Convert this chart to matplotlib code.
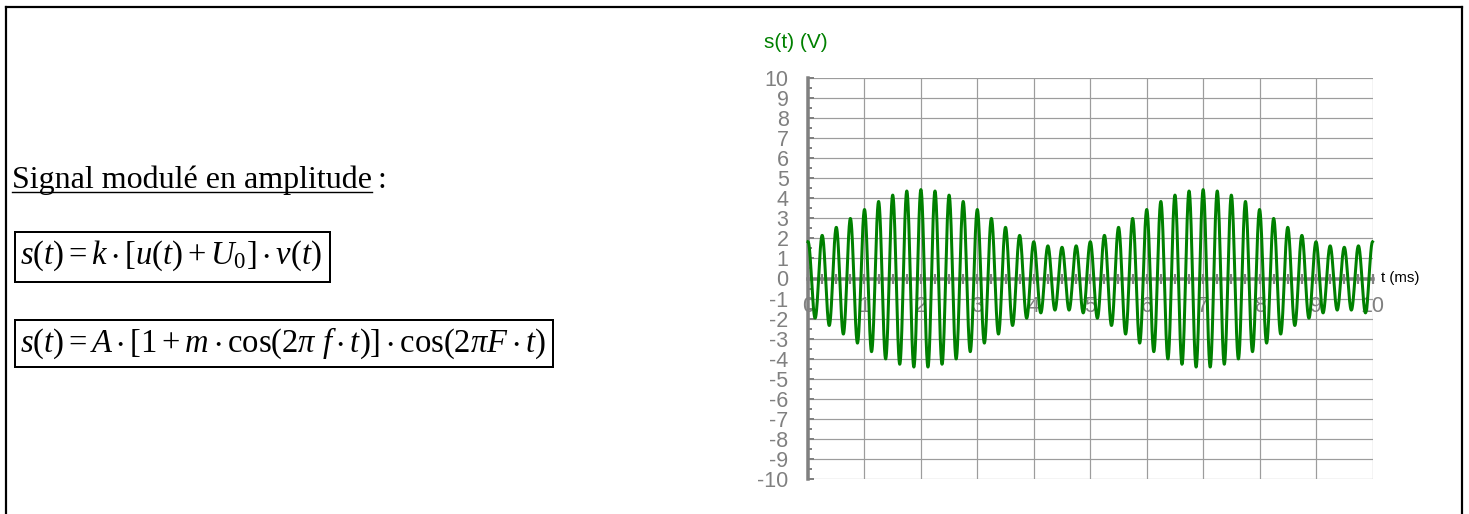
import numpy as np
import matplotlib
matplotlib.use('Agg')
import matplotlib.pyplot as plt
from matplotlib.lines import Line2D
from matplotlib.patches import Rectangle
from matplotlib.ticker import MultipleLocator

# ---- signal parameters ----
amplitude_A = 3.0          # V  (envelope between ~1.55 V and ~4.45 V)
modulation_index = 0.48
mod_freq_hz = 200.0        # envelope maxima at 2 ms and 7 ms
mod_peak_time_ms = 2.0
carrier_freq_hz = 4000.0   # 4 carrier periods per ms
t_min_ms, t_max_ms = 0.0, 10.0
x_tick_values = list(range(0, 11))
y_tick_values = list(range(-10, 11))

title_text = "Signal modulé en amplitude"
formula1 = r'$s(t) = k\cdot[u(t)+U_{\mathrm{0}}]\cdot v(t)$'
formula2 = r'$s(t) = A\cdot[1+m\cdot\mathrm{cos}(2\pi\ f\cdot t)]\cdot\mathrm{cos}(2\pi F\cdot t)$'

# ---- figure ----
W, H = 1469, 514
plt.rcParams['font.family'] = ['Liberation Sans', 'DejaVu Sans']
plt.rcParams['mathtext.fontset'] = 'custom'
plt.rcParams['mathtext.rm'] = 'Liberation Serif'
plt.rcParams['mathtext.it'] = 'Liberation Serif:italic'
plt.rcParams['mathtext.bf'] = 'Liberation Serif:bold'
plt.rcParams['mathtext.fallback'] = 'stix'

fig = plt.figure(figsize=(W / 100, H / 100), dpi=100)
fig.patch.set_facecolor('white')


def fx(x):
    return x / W


def fy(y):
    return 1 - y / H


PT = 0.72  # points per pixel

# page frame (left, top, right)
for xs, ys in [([6, 6], [7, H]), ([6, 1462], [7, 7]), ([1462, 1462], [7, H])]:
    fig.add_artist(Line2D([fx(v) for v in xs], [fy(v) for v in ys],
                          color='black', lw=2.2 * PT, transform=fig.transFigure))

# ---- left text ----
t1 = fig.text(fx(12), fy(188), title_text, family='Liberation Serif', fontsize=23,
              ha='left', va='baseline')
fig.canvas.draw()
bb = t1.get_window_extent()
fig.text(bb.x1 / W + fx(5), fy(188), ':', family='Liberation Serif', fontsize=23,
         ha='left', va='baseline')
fig.add_artist(Line2D([bb.x0 / W, bb.x1 / W], [fy(192), fy(192)], color='black',
                      lw=1.4 * PT, transform=fig.transFigure))

for (x0, y0, x1, y1) in [(15, 232, 330, 282), (15, 320, 553, 367)]:
    fig.add_artist(Rectangle((fx(x0), fy(y1)), fx(x1 - x0), (y1 - y0) / H, fill=False,
                             ec='black', lw=2 * PT, transform=fig.transFigure))
fig.text(fx(20), fy(264), formula1, fontsize=23.5, ha='left', va='baseline')
fig.text(fx(20), fy(352), formula2, fontsize=23.5, ha='left', va='baseline')

# ---- chart ----
ax_l, ax_r, ax_t, ax_b = 808.0, 1372.5, 78.3, 478.7
ax = fig.add_axes([fx(ax_l), fy(ax_b), fx(ax_r - ax_l), (ax_b - ax_t) / H])
ax.set_xlim(t_min_ms, t_max_ms)
ax.set_ylim(-10, 10)
ax.set_axisbelow(True)
ax.patch.set_alpha(0)

t = np.linspace(t_min_ms, t_max_ms, 6001)
env = amplitude_A * (1 + modulation_index *
                     np.cos(2 * np.pi * mod_freq_hz * (t - mod_peak_time_ms) * 1e-3))
s = env * np.cos(2 * np.pi * carrier_freq_hz * t * 1e-3)
ax.plot(t, s, color='#008000', lw=3 * PT, zorder=3, clip_on=False)

ax.set_xticks(x_tick_values)
ax.set_yticks(y_tick_values)
ax.xaxis.set_minor_locator(MultipleLocator(0.25))
ax.yaxis.set_minor_locator(MultipleLocator(0.5))
ax.grid(True, which='major', color='#9c9c9c', lw=1.2 * PT)

for side in ['top', 'right']:
    ax.spines[side].set_visible(False)
ax.spines['left'].set_position(('data', 0))
ax.spines['bottom'].set_position(('data', 0))
for side in ['left', 'bottom']:
    ax.spines[side].set_color('#808080')
    ax.spines[side].set_linewidth(3.5 * PT)
    ax.spines[side].set_zorder(2.5)

ax.tick_params(axis='y', which='major', direction='in', length=6 * PT, width=2 * PT,
               color='#808080', labelcolor='#808080', labelsize=15.5, pad=14)
ax.tick_params(axis='y', which='minor', direction='in', length=4 * PT, width=2 * PT,
               color='#808080')
ax.tick_params(axis='x', which='both', direction='inout', length=10 * PT, width=2.2 * PT,
               color='#808080', labelcolor='#808080', labelsize=15.5, pad=9)
ax.set_xticklabels([str(v) for v in x_tick_values])
ax.set_yticklabels([str(v) for v in y_tick_values])

fig.text(fx(1381), fy(278), 't (ms)', fontsize=10.8, color='black', ha='left', va='center')
fig.text(fx(764), fy(43), 's(t) (V)', fontsize=15, color='#008000', ha='left', va='center')

fig.savefig('out.png', dpi=100)
